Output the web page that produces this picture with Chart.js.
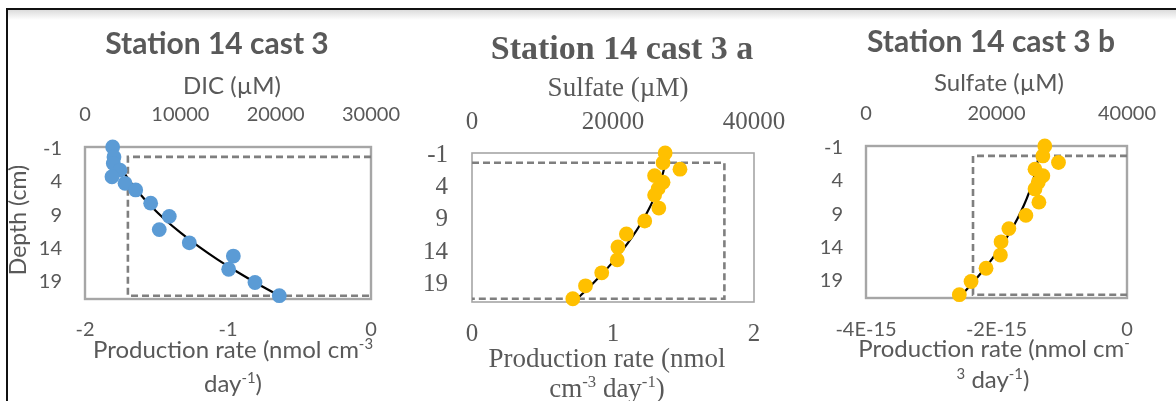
<!DOCTYPE html>
<html>
<head>
<meta charset="utf-8">
<title>Station 14 cast 3 – production rate profiles</title>
<script src="https://cdn.jsdelivr.net/npm/chart.js@4.4.1/dist/chart.umd.min.js"></script>
<style>
  html, body { margin: 0; padding: 0; background: #fff; }
  #sheet { position: relative; width: 1176px; height: 401px; overflow: hidden; background: #fff; }
  #sheet canvas { position: absolute; left: 0; top: 0; }
  .rule-top { position: absolute; left: 6px; top: 8px; width: 1170px; height: 2px; background: #111; }
  .rule-shade { position: absolute; left: 8px; top: 10px; width: 1168px; height: 10px;
                background: linear-gradient(rgba(190,190,190,0.55), rgba(255,255,255,0)); }
  .rule-left { position: absolute; left: 6px; top: 8px; width: 2px; height: 393px; background: #111; }
</style>
</head>
<body>
<div id="sheet">
  <div class="rule-shade"></div>
  <div class="rule-top"></div>
  <div class="rule-left"></div>
  <canvas id="dicPanel" width="1176" height="401"></canvas>
  <canvas id="sulfatePanelA" width="1176" height="401"></canvas>
  <canvas id="sulfatePanelB" width="1176" height="401"></canvas>
</div>
<script>
// ---- measured pore-water profiles (depth in cm, concentrations in µM) ----
const sampleDepth = [-1, 0.5, 1.5, 2.5, 3.5, 4.5, 5.5, 7.5, 9.5, 11.5, 13.5, 15.5, 17.5, 19.5, 21.5];
const dic = [2900, 3040, 2970, 3670, 2830, 4200, 5320, 6890, 8840, 7790, 10940, 15560, 15070, 17830, 20380];
const sulfate = [27400, 27100, 29500, 25900, 27100, 26400, 25900, 26500, 24500, 21900, 20700, 20600, 18400, 16100, 14300];

// ---- fitted concentration curves ----
const modelDepth = [0.5, 2, 4, 6, 8, 10, 12, 14, 16, 18, 20, 21.5];
const dicModel = [3170, 3720, 4620, 5700, 6960, 8410, 10050, 11870, 13880, 16080, 18460, 20360];
const sulfateModelA = [27430, 27110, 26540, 25810, 24930, 23890, 22700, 21350, 19840, 18180, 16360, 14890];
const sulfateModelB = [26470, 26180, 25670, 25000, 24180, 23210, 22090, 20820, 19390, 17820, 16090, 14700];

// ---- production-rate zones (nmol cm-3 day-1) ----
const zoneDepth = [0.5, 0.5, 21.5, 21.5];
const rateDic = [0, -1.7, -1.7, 0];
const rateSulfateA = [0, 1.79, 1.79, 0];
const rateSulfateB = [0, -2.36e-15, -2.36e-15, 0];

// ---- tick values and labels ----
const depthTicks = [-1, 4, 9, 14, 19];
const dicTicks = [0, 10000, 20000, 30000];
const sulfateTicks = [0, 20000, 40000];
const rateTicksDic = [-2, -1, 0];
const rateTicksA = [0, 1, 2];
const rateTicksB = [-4e-15, -2e-15, 0];
const rateTickLabelsB = ['-4E-15', '-2E-15', '0'];

const INK = '#595959';
const SANS = 'Lato';
const SERIF = '"Liberation Serif"';

function pairs(xs, ys) { return xs.map((x, i) => ({ x: x, y: ys[i] })); }

// writes one line made of normal and superscript runs, centred on cx
function richLine(ctx, runs, cx, baseline, size, family) {
  const main = size + 'px ' + family;
  const supSize = size * 0.62;
  const sup = supSize + 'px ' + family;
  let total = 0;
  const widths = runs.map(r => { ctx.font = r[1] ? sup : main; const w = ctx.measureText(r[0]).width; total += w; return w; });
  let x = cx - total / 2;
  ctx.textAlign = 'left';
  ctx.textBaseline = 'alphabetic';
  runs.forEach((r, i) => {
    ctx.font = r[1] ? sup : main;
    ctx.fillText(r[0], x, r[1] ? baseline - size * 0.36 : baseline);
    x += widths[i];
  });
}

function panelDecor(spec) {
  return {
    id: 'panelDecor',
    beforeDatasetsDraw(chart) {
      const a = chart.chartArea, ctx = chart.ctx;
      ctx.save();
      ctx.strokeStyle = '#a6a6a6';
      ctx.lineWidth = spec.frameWidth;
      ctx.strokeRect(a.left, a.top, a.right - a.left, a.bottom - a.top);
      ctx.restore();
    },
    afterDraw(chart) {
      const ctx = chart.ctx;
      ctx.save();
      ctx.fillStyle = INK;
      ctx.textAlign = 'center';
      ctx.textBaseline = 'alphabetic';
      ctx.font = 'bold ' + spec.titleSize + 'px ' + spec.family;
      ctx.fillText(spec.title, spec.titleX, spec.titleY);
      ctx.font = spec.axisSize + 'px ' + spec.family;
      ctx.fillText(spec.topTitle, spec.topTitleX, spec.topTitleY);
      spec.bottomLines.forEach(l => richLine(ctx, l.runs, l.x, l.y, spec.axisSize, spec.family));
      if (spec.sideTitle) {
        ctx.translate(spec.sideTitle.x, spec.sideTitle.y);
        ctx.rotate(-Math.PI / 2);
        ctx.textAlign = 'center';
        ctx.textBaseline = 'middle';
        ctx.font = spec.sideTitle.size + 'px ' + spec.family;
        ctx.fillText(spec.sideTitle.text, 0, 0);
      }
      ctx.restore();
    }
  };
}

function fixedTicks(values) {
  return function (scale) { scale.ticks = values.map(v => ({ value: v })); };
}

function buildPanel(id, p) {
  const tickFont = { family: p.family, size: p.tickSize };
  return new Chart(document.getElementById(id), {
    type: 'scatter',
    data: {
      datasets: [
        {
          label: 'measured',
          data: pairs(p.conc, sampleDepth),
          xAxisID: 'x', yAxisID: 'y',
          backgroundColor: p.color, borderColor: p.color,
          pointRadius: 7.4, pointBorderWidth: 0, pointHoverRadius: 7.4,
          clip: false
        },
        {
          label: 'model',
          data: pairs(p.model, modelDepth),
          xAxisID: 'x', yAxisID: 'y',
          showLine: true, tension: 0.35,
          borderColor: '#000', borderWidth: 2.2,
          pointRadius: 0
        },
        {
          label: 'rate',
          data: pairs(p.rate, zoneDepth),
          xAxisID: 'x2', yAxisID: 'y',
          showLine: true, tension: 0,
          borderColor: '#7f7f7f', borderWidth: 2.6, borderDash: [7, 4],
          pointRadius: 0,
          clip: false
        }
      ]
    },
    options: {
      responsive: false,
      animation: false,
      events: [],
      layout: { padding: { left: p.padLeft, right: p.padRight, top: 0, bottom: 0 } },
      plugins: { legend: { display: false }, tooltip: { enabled: false } },
      scales: {
        x: {
          type: 'linear', position: 'top',
          min: p.concTicks[0], max: p.concTicks[p.concTicks.length - 1],
          afterBuildTicks: fixedTicks(p.concTicks),
          afterFit: s => { s.height = p.area.top; },
          grid: { display: false, drawTicks: false },
          border: { display: false },
          ticks: { color: INK, font: tickFont, padding: p.topPad, maxRotation: 0, autoSkip: false,
                   callback: v => String(v) }
        },
        x2: {
          type: 'linear', position: 'bottom', axis: 'x',
          min: p.rateTicks[0], max: p.rateTicks[p.rateTicks.length - 1],
          afterBuildTicks: fixedTicks(p.rateTicks),
          afterFit: s => { s.height = 401 - p.area.bottom; },
          grid: { display: false, drawTicks: false },
          border: { display: false },
          ticks: { color: INK, font: tickFont, padding: p.bottomPad, maxRotation: 0, autoSkip: false,
                   callback: (v, i) => p.rateLabels[i] }
        },
        y: {
          type: 'linear', reverse: true,
          min: -1, max: 22,
          afterBuildTicks: fixedTicks(depthTicks),
          afterFit: s => { s.width = p.area.left - p.padLeft; },
          grid: { display: false, drawTicks: false },
          border: { display: false },
          ticks: { color: INK, font: tickFont, padding: p.sidePad, labelOffset: 2, autoSkip: false,
                   callback: v => String(v) }
        }
      }
    },
    plugins: [panelDecor(p.decor)]
  });
}

function build() {
  buildPanel('dicPanel', {
    family: SANS, tickSize: 20, color: '#5b9bd5',
    conc: dic, model: dicModel, rate: rateDic,
    concTicks: dicTicks, rateTicks: rateTicksDic, rateLabels: rateTicksDic.map(String),
    padLeft: 0, padRight: 1176 - 371,
    area: { left: 85, top: 147, bottom: 299 },
    topPad: 20, bottomPad: 19, sidePad: 23,
    decor: {
      family: SANS, frameWidth: 2.4,
      title: 'Station 14 cast 3', titleSize: 30, titleX: 217, titleY: 54,
      axisSize: 24,
      topTitle: 'DIC (µM)', topTitleX: 232, topTitleY: 94,
      bottomLines: [
        { x: 233, y: 358, runs: [['Production rate (nmol cm', false], ['-3', true]] },
        { x: 233, y: 392, runs: [['day', false], ['-1', true], [')', false]] }
      ],
      sideTitle: { text: 'Depth (cm)', x: 19, y: 220, size: 23 }
    }
  });

  buildPanel('sulfatePanelA', {
    family: SERIF, tickSize: 25, color: '#ffc000',
    conc: sulfate, model: sulfateModelA, rate: rateSulfateA,
    concTicks: sulfateTicks, rateTicks: rateTicksA, rateLabels: rateTicksA.map(String),
    padLeft: 400, padRight: 1176 - 754,
    area: { left: 472, top: 153, bottom: 302 },
    topPad: 16, bottomPad: 17, sidePad: 24,
    decor: {
      family: SERIF, frameWidth: 1.6,
      title: 'Station 14 cast 3 a', titleSize: 34, titleX: 622, titleY: 59,
      axisSize: 27,
      topTitle: 'Sulfate (µM)', topTitleX: 618, topTitleY: 96,
      bottomLines: [
        { x: 607, y: 367, runs: [['Production rate (nmol', false]] },
        { x: 607, y: 397, runs: [['cm', false], ['-3', true], [' day', false], ['-1', true], [')', false]] }
      ]
    }
  });

  buildPanel('sulfatePanelB', {
    family: SANS, tickSize: 20, color: '#ffc000',
    conc: sulfate, model: sulfateModelB, rate: rateSulfateB,
    concTicks: sulfateTicks, rateTicks: rateTicksB, rateLabels: rateTickLabelsB,
    padLeft: 790, padRight: 1176 - 1137,
    area: { left: 866, top: 146, bottom: 298 },
    topPad: 20, bottomPad: 20, sidePad: 23,
    decor: {
      family: SANS, frameWidth: 2.4,
      title: 'Station 14 cast 3 b', titleSize: 30, titleX: 991, titleY: 52,
      axisSize: 24,
      topTitle: 'Sulfate (µM)', topTitleX: 999, topTitleY: 91,
      bottomLines: [
        { x: 994, y: 357, runs: [['Production rate (nmol cm', false], ['-', true]] },
        { x: 993, y: 388, runs: [['3', true], [' day', false], ['-1', true], [')', false]] }
      ]
    }
  });
}

const wanted = ['20px Lato', 'bold 30px Lato', '25px "Liberation Serif"', 'bold 34px "Liberation Serif"'];
Promise.all(wanted.map(f => document.fonts.load(f))).then(build, build);
</script>
</body>
</html>
